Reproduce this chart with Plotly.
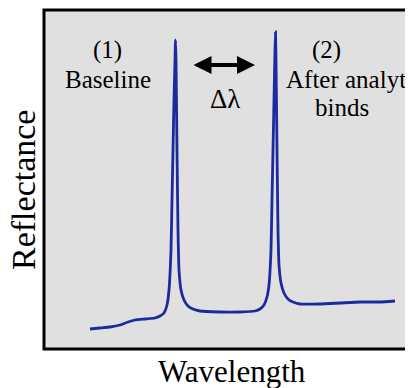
import plotly.graph_objects as go

# Spectrum (arbitrary units: wavelength, reflectance)
wavelength = [46, 56, 66, 76, 84, 91, 101, 111, 116, 120, 123, 125, 127, 128, 129, 130,
              131, 131.5, 132, 133, 134, 135, 137, 140, 144, 149, 156, 176, 196, 211,
              216, 220, 223, 225, 227, 228, 229, 230, 231, 231.5, 232, 233, 234, 235,
              237, 240, 244, 249, 256, 276, 296, 316, 336, 351]
reflectance = [20, 21, 22, 24, 27, 29, 30, 31, 33, 36, 44, 59, 99, 149, 199, 249,
               289, 309, 289, 199, 119, 79, 59, 49, 43, 40, 38, 37, 37, 38,
               40, 44, 52, 64, 99, 149, 199, 249, 299, 317, 289, 199, 119, 84,
               66, 56, 50, 47, 45, 45, 46, 47, 47, 48]

FONT = "Liberation Serif"
OFF = 8                       # page body margin
L, T, B = 44, 10, 349         # plot area pixel edges in the page
W, H = 413, 388


def px(x):
    return (x - L) / (W - L)


def py(y):
    return (B - y) / (B - T)


fig = go.Figure()
fig.add_trace(go.Scatter(x=wavelength, y=reflectance, mode="lines",
                         line=dict(color="#1b2a9f", width=2.8, shape="spline", smoothing=0.4),
                         hoverinfo="skip", showlegend=False))

fig.add_shape(type="rect", xref="paper", yref="paper", x0=0, y0=0, x1=1.05, y1=1,
              line=dict(color="black", width=3), fillcolor="rgba(0,0,0,0)", layer="above")

# double arrow (data coords = pixel offsets)
fig.add_annotation(xref="x", yref="y", x=255 - L, y=B - 65, ax=192 - L, ay=B - 65,
                   axref="x", ayref="y", showarrow=True, arrowhead=2, arrowside="end+start",
                   arrowsize=0.9, arrowwidth=4, arrowcolor="black", text="")

texts = [
    ("(1)", 107, 50, 25, "center"),
    ("Baseline", 108, 79, 25, "center"),
    ("(2)", 326, 50, 25, "center"),
    ("Δλ", 225, 99, 27, "center"),
    ("binds", 342, 107, 25, "center"),
]
for t, x, y, s, a in texts:
    fig.add_annotation(xref="paper", yref="paper", x=px(x), y=py(y), text=t, showarrow=False,
                       font=dict(family=FONT, size=s, color="black"), xanchor=a, yanchor="middle")
fig.add_annotation(xref="paper", yref="paper", x=px(284), y=py(79), text="After analyte",
                   showarrow=False, font=dict(family=FONT, size=25, color="black"),
                   xanchor="left", yanchor="middle")

fig.add_annotation(xref="paper", yref="paper", x=px(232), y=py(371), text="Wavelength",
                   showarrow=False, font=dict(family=FONT, size=31, color="black"),
                   xanchor="center", yanchor="middle")
fig.add_annotation(xref="paper", yref="paper", x=px(24), y=py(190), text="Reflectance",
                   showarrow=False, textangle=-90, font=dict(family=FONT, size=34, color="black"),
                   xanchor="center", yanchor="middle")

fig.update_xaxes(range=[0, W - L], showgrid=False, zeroline=False, showticklabels=False,
                 ticks="", showline=False)
fig.update_yaxes(range=[0, B - T], showgrid=False, zeroline=False, showticklabels=False,
                 ticks="", showline=False)
fig.update_layout(width=W - OFF, height=H - OFF,
                  margin=dict(l=L - OFF, r=0, t=T - OFF, b=H - B),
                  plot_bgcolor="#e0e0e0", paper_bgcolor="white")

fig.write_html("out.html")
